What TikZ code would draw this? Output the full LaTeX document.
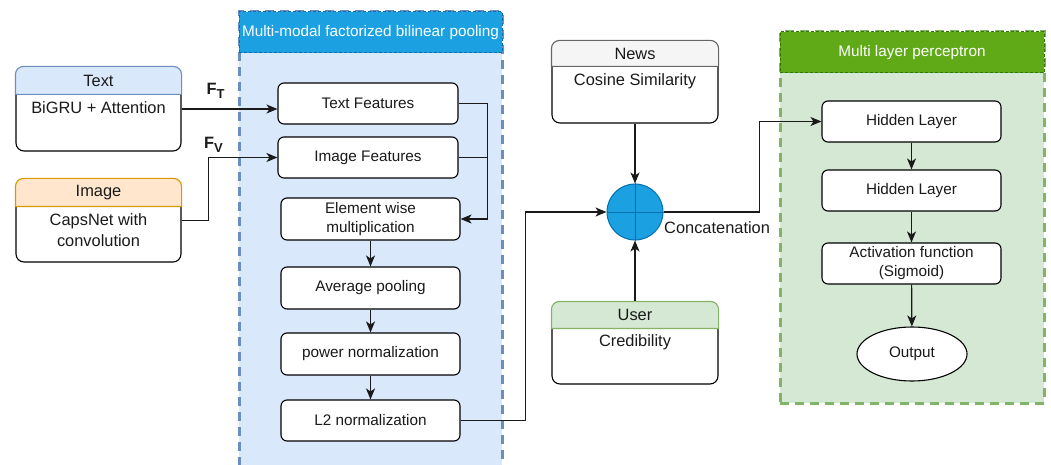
\documentclass[tikz,border=0pt]{standalone}
\usepackage{fontspec}
\setmainfont{Liberation Sans}
\usetikzlibrary{arrows.meta,shapes.geometric,calc}
\definecolor{bfill}{HTML}{DAE8FC}
\definecolor{bstroke}{HTML}{6C8EBF}
\definecolor{hblue}{HTML}{1BA1E2}
\definecolor{hbluestroke}{HTML}{006EAF}
\definecolor{ofill}{HTML}{FFE6CC}
\definecolor{ostroke}{HTML}{D79B00}
\definecolor{gfill}{HTML}{F5F5F5}
\definecolor{gstroke}{HTML}{666666}
\definecolor{grfill}{HTML}{D5E8D4}
\definecolor{grstroke}{HTML}{82B366}
\definecolor{grhead}{HTML}{60A917}
\definecolor{grheadstroke}{HTML}{2D7600}
\definecolor{ink}{HTML}{1A1A1A}
\newcommand\fsA{\fontsize{15.3}{19}\selectfont}
\newcommand\fsB{\fontsize{16.4}{21}\selectfont}
\begin{document}
\begin{tikzpicture}[x=1pt,y=-1pt,
  stepbox/.style={draw=black, fill=white, rounded corners=6pt, line width=1.1pt,
    minimum width=179pt, minimum height=41pt, inner sep=0pt, align=center, font=\fsA, text=ink},
  lanebox/.style={draw=black, fill=white, rounded corners=8pt, line width=1.1pt,
    minimum width=165pt, inner sep=0pt},
  lanetext/.style={font=\fsB, text=ink, align=center, inner sep=0pt},
  conn/.style={draw=ink, line width=1.2pt},
  arr/.style={conn, -{Stealth[length=11pt,width=9pt,inset=3pt]}},
  panelline/.style={line width=3pt, dash pattern=on 9pt off 6pt},
  headline/.style={line width=1pt, dash pattern=on 3pt off 2pt},
]
\useasboundingbox (0,0) rectangle (1051,465);

% ---------- middle panel ----------
\fill[bfill] (239,12) rectangle (502,465);
\draw[panelline, draw=bstroke] (239,466) -- (239,12) -- (502,12) -- (502,466);
\node[draw=hbluestroke, headline, fill=hblue, minimum width=263pt, minimum height=41pt, inner sep=0pt,
  text=white, font=\fsA] (mfbhead) at (370.5,32.5) {Multi-modal factorized bilinear pooling};

% ---------- right panel ----------
\node[fill=grfill, draw=grstroke, panelline, minimum width=264pt, minimum height=371pt, inner sep=0pt]
  (mlpbody) at (912,217.5) {};
\node[draw=grheadstroke, headline, fill=grhead, minimum width=264pt, minimum height=41pt, inner sep=0pt,
  text=white, font=\fsA] (mlphead) at (912,52.5) {Multi layer perceptron};

% ---------- left swimlane boxes ----------
\node[lanebox, minimum height=84pt] (textbox) at (98.5,109) {};
\filldraw[fill=bfill, draw=bstroke, line width=1.1pt] ($(textbox.north west)+(0,28)$) [rounded corners=8pt]
  -- (textbox.north west) -- (textbox.north east) [sharp corners] -- ($(textbox.north east)+(0,28)$) -- cycle;
\node[lanetext] (texthdr) at ($(textbox.north)+(0,14)$) {Text};
\node[lanetext] (textbody) at ($(textbox.north)+(0,41)$) {BiGRU + Attention};

\node[lanebox, minimum height=83pt] (imgbox) at (98.5,220.5) {};
\filldraw[fill=ofill, draw=ostroke, line width=1.1pt] ($(imgbox.north west)+(0,28)$) [rounded corners=8pt]
  -- (imgbox.north west) -- (imgbox.north east) [sharp corners] -- ($(imgbox.north east)+(0,28)$) -- cycle;
\node[lanetext] (imghdr) at ($(imgbox.north)+(0,14)$) {Image};
\node[lanetext] (imgbody) at ($(imgbox.north)+(0,51.5)$) {CapsNet with\\convolution};

% ---------- news / user ----------
\node[lanebox, minimum width=166pt, minimum height=82pt] (news) at (635,82) {};
\filldraw[fill=gfill, draw=gstroke, line width=1.1pt] ($(news.north west)+(0,26)$) [rounded corners=8pt]
  -- (news.north west) -- (news.north east) [sharp corners] -- ($(news.north east)+(0,26)$) -- cycle;
\node[lanetext] (newshdr) at ($(news.north)+(0,13)$) {News};
\node[lanetext] (newsbody) at ($(news.north)+(0,41)$) {Cosine Similarity};

\node[lanebox, minimum width=166pt, minimum height=82pt] (user) at (635,343) {};
\filldraw[fill=grfill, draw=grstroke, line width=1.1pt] ($(user.north west)+(0,27)$) [rounded corners=8pt]
  -- (user.north west) -- (user.north east) [sharp corners] -- ($(user.north east)+(0,27)$) -- cycle;
\node[lanetext] (userhdr) at ($(user.north)+(0,13.5)$) {User};
\node[lanetext] (userbody) at ($(user.north)+(0,41)$) {Credibility};

% ---------- MFB steps ----------
\node[stepbox, minimum width=180pt] (tf) at (368,103.5) {Text Features};
\node[stepbox, minimum width=180pt] (imf) at (368,157.5) {Image Features};
\node[stepbox, minimum height=42pt] (ew) at (370.5,219) {Element wise\\multiplication};
\node[stepbox, minimum height=42pt] (ap) at (370.5,288) {Average pooling};
\node[stepbox, minimum height=42pt] (pn) at (370.5,354) {power normalization};
\node[stepbox] (l2) at (370.5,420.5) {L2 normalization};

% ---------- MLP steps ----------
\node[stepbox] (h1) at (911.5,121.5) {Hidden Layer};
\node[stepbox] (h2) at (911.5,190.5) {Hidden Layer};
\node[stepbox] (act) at (911.5,263.5) {Activation function\\(Sigmoid)};
\node[ellipse, draw=black, fill=white, line width=1.1pt, minimum width=110pt, minimum height=54pt,
  inner sep=0pt, font=\fsA, text=ink] (out) at (912,354) {Output};

% ---------- concatenation ----------
\node[circle, draw=hbluestroke, fill=hblue, line width=1pt, minimum size=56pt, inner sep=0pt] (cat) at (635,212) {};
\draw[hbluestroke, line width=1pt] (cat.north) -- (cat.south) (cat.west) -- (cat.east);
\node[anchor=west, font=\fsB, text=ink, inner sep=0pt] (catlbl) at (664,228) {Concatenation};

% ---------- connectors ----------
\draw[arr] (textbox.east) -- (textbox.east -| tf.west);
\draw[arr] (imgbox.east) -- ++(27,0) |- (imf.west);
\node[font=\fsB\bfseries, text=ink, inner sep=0pt] (ftlbl) at (215.5,91) {F\raisebox{-0.4ex}{\fontsize{13}{13}\selectfont T}};
\node[font=\fsB\bfseries, text=ink, inner sep=0pt] (fvlbl) at (213.5,145) {F\raisebox{-0.4ex}{\fontsize{13}{13}\selectfont V}};

\draw[arr] (tf.east) -- ++(29,0) |- (ew.east);
\draw[conn] (imf.east) -- ++(29,0);
\draw[arr] (ew) -- (ap);
\draw[arr] (ap) -- (pn);
\draw[arr] (pn) -- (l2);
\draw[arr] (l2.east) -- ++(65,0) |- (cat.west);
\draw[arr] (news) -- (cat);
\draw[arr] (user) -- (cat);
\draw[arr] (cat.east) -- ++(96,0) |- (h1.west);
\draw[arr] (h1) -- (h2);
\draw[arr] (h2) -- (act);
\draw[arr] (act) -- (out);
\end{tikzpicture}
\end{document}
